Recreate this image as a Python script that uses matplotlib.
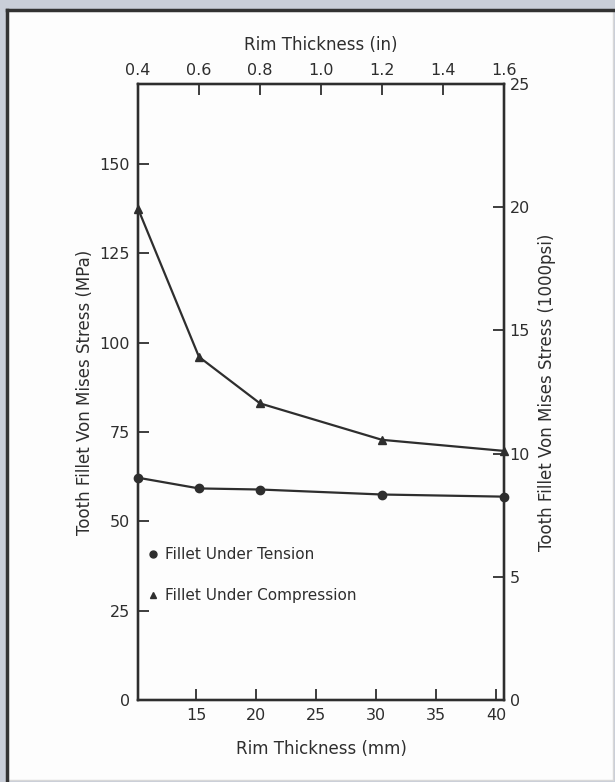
import matplotlib.pyplot as plt
from matplotlib.lines import Line2D
from matplotlib.patches import Rectangle

# rim thickness in inches and the two stress curves (MPa)
rim_in = [0.4, 0.6, 0.8, 1.2, 1.6]
tension_mpa = [62.2, 59.2, 58.9, 57.5, 56.9]
compression_mpa = [137.5, 96.0, 83.0, 72.8, 69.7]

mm_ticks = [15, 20, 25, 30, 35, 40]
in_ticks = [0.4, 0.6, 0.8, 1.0, 1.2, 1.4, 1.6]
mpa_ticks = [0, 25, 50, 75, 100, 125, 150]
ksi_ticks = [0, 5, 10, 15, 20, 25]

ink = '#2e2e2e'
plt.rcParams['font.family'] = ['DejaVu Sans']
plt.rcParams['text.color'] = ink

fig = plt.figure(figsize=(6.15, 7.82), dpi=100)
fig.patch.set_facecolor('#c9ced8')

# scanned page panel, kept behind the axes
fig.add_artist(Rectangle((6 / 615, 2 / 782), 607 / 615, 770 / 782,
                         transform=fig.transFigure, facecolor='#fdfdfd',
                         edgecolor='#d8d8d8', linewidth=1, zorder=-10))
fig.add_artist(Line2D([7 / 615, 7 / 615], [2 / 782, 1 - 10 / 782],
                      transform=fig.transFigure, color='#333333', lw=2.5, zorder=-9))
fig.add_artist(Line2D([7 / 615, 613 / 615], [1 - 10 / 782, 1 - 10 / 782],
                      transform=fig.transFigure, color='#333333', lw=2.5, zorder=-9))

ax = fig.add_axes([138 / 615, 1 - 700 / 782, 366 / 615, 616 / 782])
ax.set_facecolor('none')

rim_mm = [v * 25.4 for v in rim_in]
ax.plot(rim_mm, tension_mpa, color=ink, lw=1.6, marker='o', ms=6, clip_on=False, zorder=5)
ax.plot(rim_mm, compression_mpa, color=ink, lw=1.6, marker='^', ms=6, clip_on=False, zorder=5)

ax.set_xlim(0.4 * 25.4, 1.6 * 25.4)
ax.set_ylim(0, 25 * 6.894757)
ax.set_xticks(mm_ticks)
ax.set_yticks(mpa_ticks)
ax.tick_params(direction='in', length=8, width=1.3, colors=ink, labelsize=11.5, pad=6)
ax.set_xlabel('Rim Thickness (mm)', fontsize=12, labelpad=12, color=ink)
ax.set_ylabel('Tooth Fillet Von Mises Stress (MPa)', fontsize=12, labelpad=4, color=ink)
for s in ax.spines.values():
    s.set_color(ink)
    s.set_linewidth(1.6)

top = ax.twiny()
top.set_xlim(0.4, 1.6)
top.set_xticks(in_ticks)
top.set_xticklabels([f'{v:.1f}' for v in in_ticks])
top.tick_params(direction='in', length=8, width=1.3, colors=ink, labelsize=11.5, pad=4)
top.set_xlabel('Rim Thickness (in)', fontsize=12, labelpad=10, color=ink)

right = ax.twinx()
right.set_ylim(0, 25)
right.set_yticks(ksi_ticks)
right.tick_params(direction='in', length=8, width=1.3, colors=ink, labelsize=11.5, pad=4)
right.set_ylabel('Tooth Fillet Von Mises Stress (1000psi)', fontsize=12, labelpad=6, color=ink)
for a in (top, right):
    for s in a.spines.values():
        s.set_color(ink)
        s.set_linewidth(1.6)

handles = [Line2D([], [], color=ink, marker='o', ls='none', ms=5),
           Line2D([], [], color=ink, marker='^', ls='none', ms=5)]
ax.legend(handles, ['Fillet Under Tension', 'Fillet Under Compression'],
          loc='upper left', bbox_to_anchor=(-0.01, 0.27), frameon=False,
          fontsize=11, handlelength=0.6, handletextpad=0.5, labelspacing=1.7)

fig.savefig('out.png', dpi=100, facecolor=fig.get_facecolor())
